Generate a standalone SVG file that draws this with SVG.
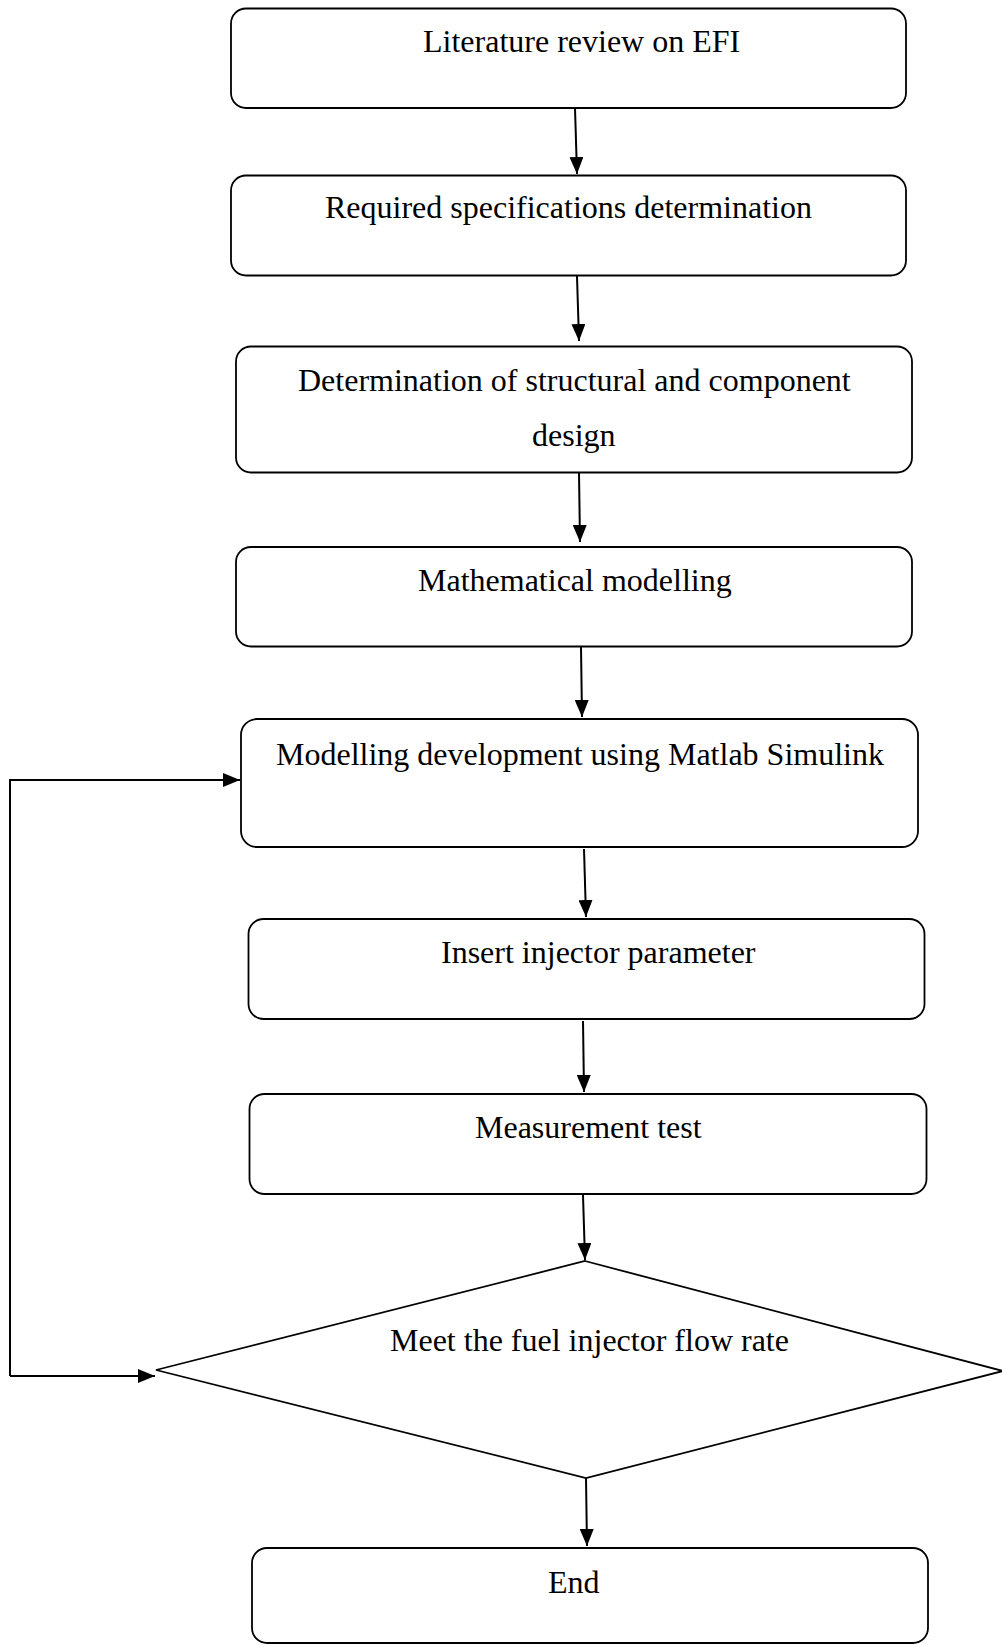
<svg xmlns="http://www.w3.org/2000/svg" width="1002" height="1645" viewBox="0 0 1002 1645">
<style>
.box{fill:#fff;stroke:#000;stroke-width:1.8}
.t{font-family:"Liberation Serif","Times New Roman",serif;font-size:32px;fill:#000}
.c{fill:none;stroke:#000;stroke-width:2}
</style>
<defs>
<marker id="ah" viewBox="0 0 17 14" refX="17" refY="7" markerWidth="17" markerHeight="14" markerUnits="userSpaceOnUse" orient="auto">
<path d="M0,0 L17,7 L0,14 Z" fill="#000"/>
</marker>
</defs>
<rect width="1002" height="1645" fill="#fff"/>
<g id="connectors">
<line class="c" x1="575" y1="108" x2="577" y2="174" marker-end="url(#ah)"/>
<line class="c" x1="577" y1="276" x2="579" y2="341" marker-end="url(#ah)"/>
<line class="c" x1="579" y1="473" x2="580" y2="542" marker-end="url(#ah)"/>
<line class="c" x1="581" y1="647" x2="582" y2="717" marker-end="url(#ah)"/>
<line class="c" x1="584" y1="849" x2="586" y2="917" marker-end="url(#ah)"/>
<line class="c" x1="583" y1="1021" x2="584" y2="1092" marker-end="url(#ah)"/>
<line class="c" x1="583" y1="1195" x2="585" y2="1260" marker-end="url(#ah)"/>
<line class="c" x1="586" y1="1478" x2="587" y2="1546" marker-end="url(#ah)"/>
<polyline class="c" points="10,1376 10,780 240,780" marker-end="url(#ah)"/>
<line class="c" x1="10" y1="1376" x2="155" y2="1376" marker-end="url(#ah)"/>
</g>
<g id="n1"><rect class="box" x="231" y="8.5" width="675" height="99.5" rx="15"/><text class="t" x="423" y="52">Literature review on EFI</text></g>
<g id="n2"><rect class="box" x="231" y="175.5" width="675" height="100" rx="15"/><text class="t" x="325" y="218">Required specifications determination</text></g>
<g id="n3"><rect class="box" x="236" y="346.5" width="676" height="126" rx="15"/><text class="t" x="298" y="391">Determination of structural and component</text><text class="t" x="532" y="446">design</text></g>
<g id="n4"><rect class="box" x="236" y="547" width="676" height="99.5" rx="15"/><text class="t" x="418" y="591">Mathematical modelling</text></g>
<g id="n5"><rect class="box" x="241" y="719" width="677" height="128" rx="16"/><text class="t" x="276" y="765">Modelling development using Matlab Simulink</text></g>
<g id="n6"><rect class="box" x="248.5" y="919" width="676" height="100" rx="15"/><text class="t" x="441" y="963">Insert injector parameter</text></g>
<g id="n7"><rect class="box" x="249.5" y="1094" width="677" height="100" rx="15"/><text class="t" x="475" y="1138">Measurement test</text></g>
<g id="n8"><polygon class="box" points="585,1261 1003,1371 586,1478 156,1370"/><text class="t" x="390" y="1351">Meet the fuel injector flow rate</text></g>
<g id="n9"><rect class="box" x="252" y="1548" width="676" height="95" rx="15"/><text class="t" x="548" y="1593">End</text></g>
</svg>
